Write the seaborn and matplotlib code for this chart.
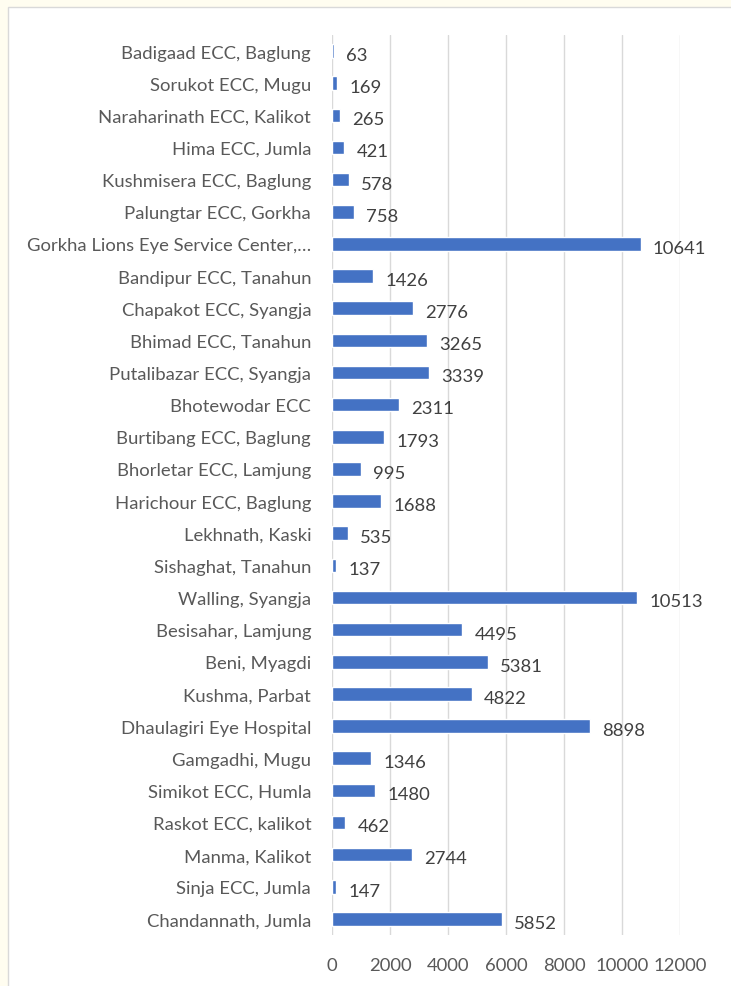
import matplotlib.pyplot as plt
import matplotlib.patches as mpatches
import pandas as pd
import seaborn as sns

centers = [
    "Badigaad ECC, Baglung",
    "Sorukot ECC, Mugu",
    "Naraharinath ECC, Kalikot",
    "Hima ECC, Jumla",
    "Kushmisera ECC, Baglung",
    "Palungtar ECC, Gorkha",
    "Gorkha Lions Eye Service Center,\u2026",
    "Bandipur ECC, Tanahun",
    "Chapakot ECC, Syangja",
    "Bhimad ECC, Tanahun",
    "Putalibazar ECC, Syangja",
    "Bhotewodar ECC",
    "Burtibang ECC, Baglung",
    "Bhorletar ECC, Lamjung",
    "Harichour ECC, Baglung",
    "Lekhnath, Kaski",
    "Sishaghat, Tanahun",
    "Walling, Syangja",
    "Besisahar, Lamjung",
    "Beni, Myagdi",
    "Kushma, Parbat",
    "Dhaulagiri Eye Hospital",
    "Gamgadhi, Mugu",
    "Simikot ECC, Humla",
    "Raskot ECC, kalikot",
    "Manma, Kalikot",
    "Sinja ECC, Jumla",
    "Chandannath, Jumla",
]
patients = [63, 169, 265, 421, 578, 758, 10641, 1426, 2776, 3265, 3339, 2311,
            1793, 995, 1688, 535, 137, 10513, 4495, 5381, 4822, 8898, 1346,
            1480, 462, 2744, 147, 5852]
xticks = [0, 2000, 4000, 6000, 8000, 10000, 12000]

df = pd.DataFrame({"center": centers, "patients": patients})

sns.set_theme(style="white")
plt.rcParams["font.family"] = ["Lato", "DejaVu Sans"]

fig = plt.figure(figsize=(7.31, 9.87), dpi=100)
fig.patch.set_facecolor("#FFFDF0")
fig.patches.append(mpatches.Rectangle((8 / 731, -0.1), 1.2, 1 - 8 / 987 + 0.1,
                                      transform=fig.transFigure,
                                      facecolor="white", edgecolor="#D9D9D9",
                                      linewidth=1, zorder=-5))

ax = fig.add_axes([332 / 731, 1 - 936 / 987, 348 / 731, 900 / 987])
ax.set_facecolor("none")
sns.barplot(data=df, x="patients", y="center", color="#4472C4", width=0.42,
            saturation=1, ax=ax, zorder=3)

for i, v in enumerate(patients):
    ax.text(v + 420, i + 0.12, str(v), va="center", ha="left",
            fontsize=13.3, color="#404040")

ax.set_xlim(0, 12000)
ax.set_ylim(27.5, -0.5)
ax.set_xticks(xticks)
ax.set_xticklabels([str(t) for t in xticks])
ax.grid(axis="x", color="#D9D9D9", linewidth=1, zorder=0)
ax.tick_params(axis="x", length=0, pad=16, labelsize=13.3, labelcolor="#595959")
ax.tick_params(axis="y", length=0, pad=15, labelsize=13.3, labelcolor="#595959")
for s in ax.spines.values():
    s.set_visible(False)
ax.set_xlabel("")
ax.set_ylabel("")

fig.savefig("out.png", dpi=100)
